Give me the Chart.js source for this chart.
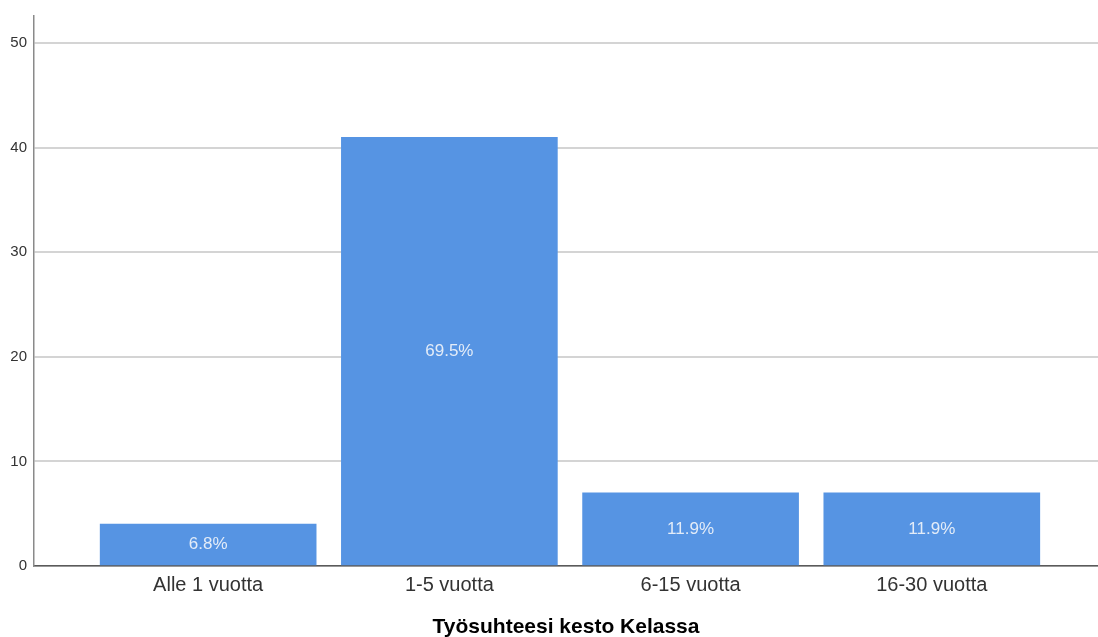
<!DOCTYPE html>
<html lang="fi">
<head>
  <meta charset="UTF-8">
  <title>Työsuhteesi kesto Kelassa</title>
  <script src="https://cdn.jsdelivr.net/npm/chart.js"></script>
  <style>
    html, body { margin: 0; padding: 0; background: #fff; }
    .wrap { width: 1098px; height: 637px; }
  </style>
</head>
<body>
  <div class="wrap"><canvas id="chart" width="1098" height="637"></canvas></div>
  <script>
    // data
    const categories = ['Alle 1 vuotta', '1-5 vuotta', '6-15 vuotta', '16-30 vuotta'];
    const counts = [4, 41, 7, 7];
    const yTicks = [0, 10, 20, 30, 40, 50];

    const total = counts.reduce((a, b) => a + b, 0);
    const FONT = '"Liberation Sans", Arial, sans-serif';

    // percent labels in the middle of each bar
    const barLabels = {
      id: 'barLabels',
      afterDatasetsDraw(chart) {
        const ctx = chart.ctx;
        const meta = chart.getDatasetMeta(0);
        ctx.save();
        ctx.font = '17px ' + FONT;
        ctx.fillStyle = '#e3ecf8';
        ctx.textAlign = 'center';
        ctx.textBaseline = 'middle';
        meta.data.forEach((bar, i) => {
          const pct = (counts[i] / total * 100).toFixed(1) + '%';
          ctx.fillText(pct, bar.x, (bar.y + bar.base) / 2);
        });
        ctx.restore();
      }
    };

    new Chart(document.getElementById('chart'), {
      type: 'bar',
      data: {
        datasets: [{
          data: counts.map((v, i) => ({ x: i, y: v })),
          backgroundColor: '#5694e3',
          borderWidth: 0,
          barThickness: 216
        }]
      },
      options: {
        responsive: false,
        animation: false,
        layout: { padding: { top: 15, right: 0, left: 0, bottom: 0 } },
        plugins: {
          legend: { display: false },
          tooltip: { enabled: false }
        },
        scales: {
          x: {
            type: 'linear',
            offset: false,
            min: -0.722,
            max: 3.689,
            afterBuildTicks(scale) {
              scale.ticks = categories.map((c, i) => ({ value: i }));
            },
            afterFit(scale) { scale.height = 71; },
            grid: { display: false, drawTicks: false, offset: false },
            border: { color: '#5a5a5a', width: 1.5 },
            ticks: {
              autoSkip: false,
              maxRotation: 0,
              padding: 7,
              color: '#333',
              font: { family: FONT, size: 20 },
              callback: (v) => categories[v]
            },
            title: {
              display: true,
              text: 'Työsuhteesi kesto Kelassa',
              color: '#000',
              padding: { top: 0, bottom: 0 },
              font: { family: FONT, size: 21, weight: 'bold', lineHeight: 0.9 }
            }
          },
          y: {
            min: 0,
            max: 52.6,
            afterBuildTicks(scale) {
              scale.ticks = yTicks.map(v => ({ value: v }));
            },
            afterFit(scale) { scale.width = 34; },
            grid: { color: '#d4d4d4', lineWidth: 2, drawTicks: false },
            border: { color: '#8a8a8a', width: 1.5 },
            ticks: {
              padding: 7,
              color: '#333',
              font: { family: FONT, size: 15 }
            }
          }
        }
      },
      plugins: [barLabels]
    });
  </script>
</body>
</html>
